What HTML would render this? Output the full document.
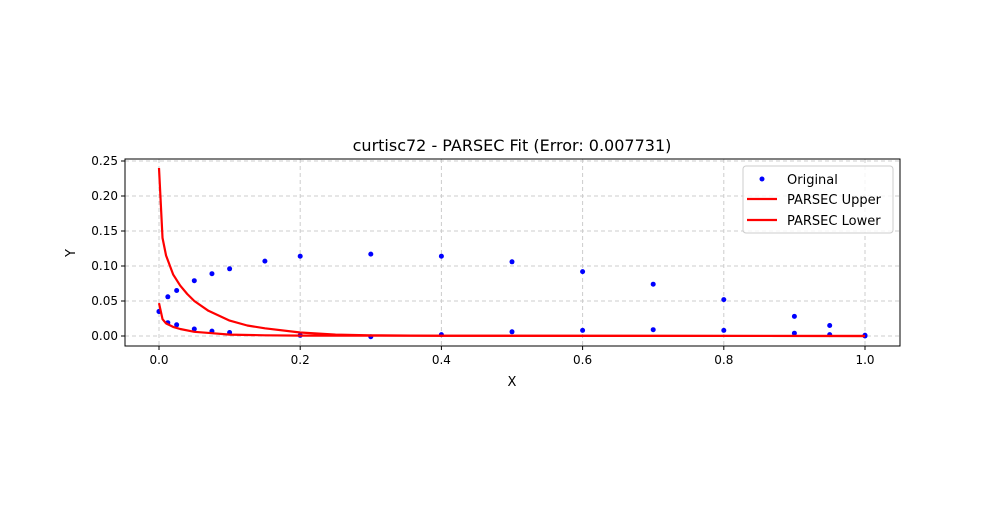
<!DOCTYPE html>
<html><head><meta charset="utf-8"><style>
body{margin:0;background:#fff;}
svg{font-family:"DejaVu Sans","Liberation Sans",sans-serif;}
</style></head><body>
<svg id="chart" width="1000" height="500" xmlns="http://www.w3.org/2000/svg">
<rect width="1000" height="500" fill="#fff"/>
<g id="grid"></g>
<g id="marks"></g>
<g id="axes"></g>
<text x="512" y="151" text-anchor="middle" font-size="16">curtisc72 - PARSEC Fit (Error: 0.007731)</text>
<text x="512" y="386" text-anchor="middle" font-size="13">X</text>
<text x="75" y="253" text-anchor="middle" font-size="13" transform="rotate(-90 75 253)">Y</text>
<g>
<rect x="743" y="166" width="150" height="67" rx="3" fill="#fff" fill-opacity="0.8" stroke="#ccc"/>
<circle cx="762" cy="179" r="2.5" fill="#0000ff"/>
<text x="787" y="184" font-size="13">Original</text>
<line x1="747" y1="199" x2="777" y2="199" stroke="#ff0000" stroke-width="2.2"/>
<text x="787" y="204" font-size="13">PARSEC Upper</text>
<line x1="747" y1="220" x2="777" y2="220" stroke="#ff0000" stroke-width="2.2"/>
<text x="787" y="225" font-size="13">PARSEC Lower</text>
</g>
</svg>
<script>
const ptsX=[0,0.0125,0.025,0.05,0.075,0.1,0.15,0.2,0.3,0.4,0.5,0.6,0.7,0.8,0.9,0.95,1.0];
const upperY=[0.035,0.056,0.065,0.079,0.089,0.096,0.107,0.114,0.117,0.114,0.106,0.092,0.074,0.052,0.028,0.015,0.001];
const lowerX=[0,0.0125,0.025,0.05,0.075,0.1,0.2,0.3,0.4,0.5,0.6,0.7,0.8,0.9,0.95,1.0];
const lowerY=[0.035,0.019,0.016,0.010,0.007,0.005,0.001,-0.001,0.002,0.006,0.008,0.009,0.008,0.004,0.002,0];
const fitUX=[0,0.005,0.01,0.02,0.03,0.04,0.05,0.07,0.1,0.125,0.15,0.2,0.25,0.3,0.4,1];
const fitUY=[0.24,0.14,0.115,0.088,0.072,0.06,0.05,0.036,0.022,0.015,0.011,0.005,0.002,0.001,0.0003,0];
const fitLX=[0,0.005,0.01,0.02,0.03,0.05,0.075,0.1,0.15,0.2,1];
const fitLY=[0.047,0.024,0.018,0.013,0.010,0.006,0.004,0.002,0.001,0.0005,0];
const xTicks=[0,0.2,0.4,0.6,0.8,1.0];
const yTicks=[0,0.05,0.10,0.15,0.20,0.25];
const L=125,R=900,T=159,B=346;
const sx=v=>159+v*706, sy=v=>336-v*700;
const NS="http://www.w3.org/2000/svg";
function mk(p,t,a){const e=document.createElementNS(NS,t);for(const k in a)e.setAttribute(k,a[k]);p.appendChild(e);return e;}
const grid=document.getElementById('grid'),marks=document.getElementById('marks'),axes=document.getElementById('axes');
xTicks.forEach(v=>{const x=sx(v);
 const g=mk(grid,'line',{x1:x,x2:x,y1:T,y2:B,stroke:'#ccc','stroke-dasharray':'4,3'});
 
 
 mk(axes,'line',{x1:x,x2:x,y1:B,y2:B+4,stroke:'#000'});
 const t=mk(axes,'text',{x:x,y:B+18,'text-anchor':'middle','font-size':12});t.textContent=v.toFixed(1);
 
 });
yTicks.forEach(v=>{const y=sy(v);
 const g=mk(grid,'line',{x1:L,x2:R,y1:y,y2:y,stroke:'#ccc','stroke-dasharray':'4,3'});
 
 
 mk(axes,'line',{x1:L-4,x2:L,y1:y,y2:y,stroke:'#000'});
 const t=mk(axes,'text',{x:L-7,y:y+4,'text-anchor':'end','font-size':12});t.textContent=v.toFixed(2);
 
 });
const fr=mk(axes,'rect',{x:L,y:T,width:R-L,height:B-T,fill:'none',stroke:'#000'});


function line(xs,ys,name){const p=mk(marks,'polyline',{points:xs.map((x,i)=>sx(x)+','+sy(ys[i])).join(' '),fill:'none',stroke:'#ff0000','stroke-width':2.2,'stroke-linejoin':'round'});
 
 }
function dots(xs,ys,name){xs.forEach((x,i)=>{const c=mk(marks,'circle',{cx:sx(x),cy:sy(ys[i]),r:2.5,fill:'#0000ff'});
 
 });}
dots(ptsX,upperY,'original-upper-point');
dots(lowerX,lowerY,'original-lower-point');
line(fitUX,fitUY,'parsec-upper-line');
line(fitLX,fitLY,'parsec-lower-line');
</script>
</body></html>
